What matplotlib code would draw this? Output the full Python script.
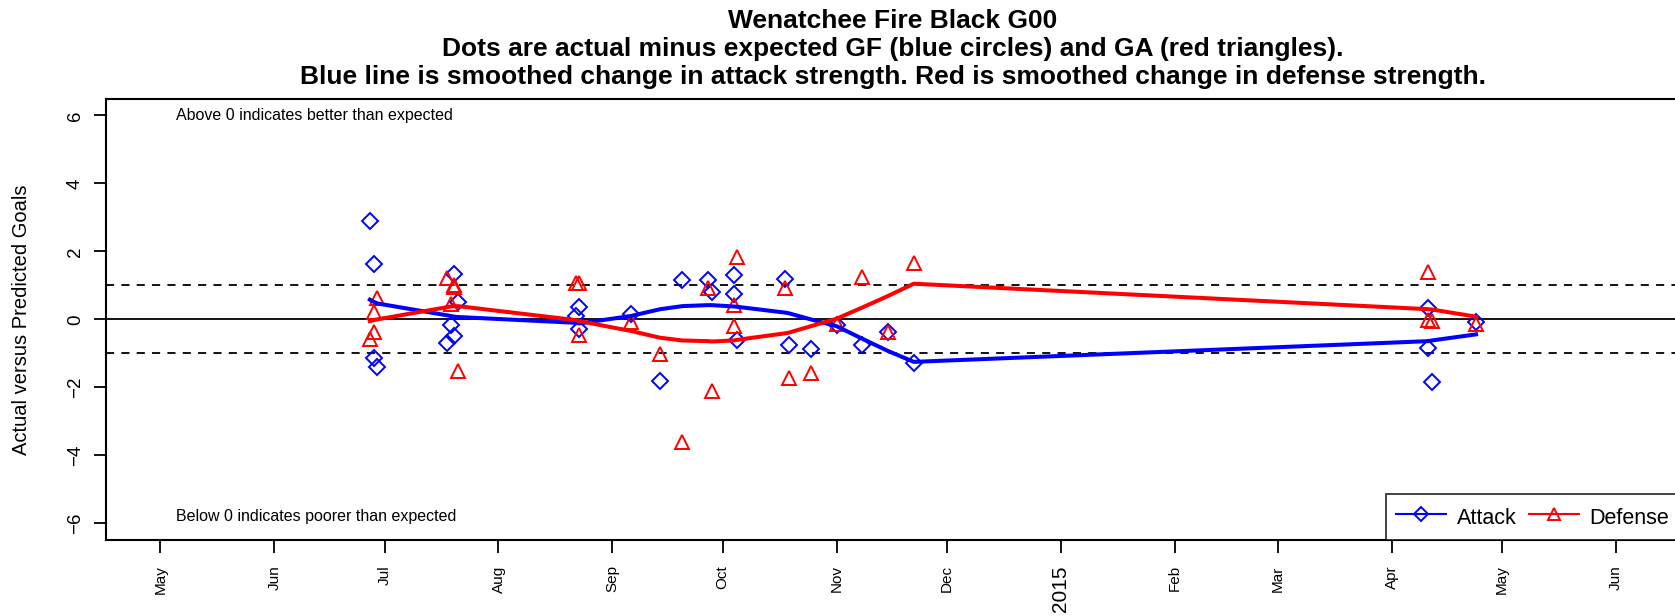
import matplotlib
matplotlib.use("Agg")
import matplotlib.pyplot as plt
import pandas as pd

plt.rcParams["font.family"] = ["Liberation Sans", "DejaVu Sans"]

# one row per game
game_dates = [
    "2014-06-27", "2014-06-28", "2014-06-28", "2014-06-29",
    "2014-07-18", "2014-07-19", "2014-07-20", "2014-07-20", "2014-07-21",
    "2014-08-22", "2014-08-23", "2014-08-23",
    "2014-09-06", "2014-09-14", "2014-09-20", "2014-09-27", "2014-09-28",
    "2014-10-04", "2014-10-04", "2014-10-05", "2014-10-18", "2014-10-19",
    "2014-10-25", "2014-11-01", "2014-11-08", "2014-11-15", "2014-11-22",
    "2015-04-11", "2015-04-11", "2015-04-12", "2015-04-24",
]
attack = [
    2.90, 1.62, -1.13, -1.40,
    -0.69, -0.17, 1.35, -0.49, 0.51,
    0.10, 0.36, -0.29,
    0.15, -1.80, 1.16, 1.15, 0.80,
    1.31, 0.76, -0.61, 1.18, -0.74,
    -0.87, -0.16, -0.74, -0.37, -1.28,
    0.35, -0.84, -1.85, -0.08,
]
defense = [
    -0.57, 0.23, -0.37, 0.64,
    1.23, 0.44, 1.00, 0.95, -1.52,
    1.06, 1.06, -0.47,
    -0.08, -1.03, -3.60, 0.93, -2.10,
    0.41, -0.20, 1.84, 0.93, -1.72,
    -1.58, -0.14, 1.26, -0.37, 1.66,
    1.38, -0.02, -0.05, -0.15,
]
attack_smooth = [
    0.58, 0.52, 0.52, 0.47,
    0.12, 0.10, 0.08, 0.08, 0.07,
    -0.10, -0.12, -0.12,
    0.10, 0.30, 0.39, 0.42, 0.42,
    0.38, 0.38, 0.37, 0.20, 0.18,
    0.00, -0.20, -0.57, -0.93, -1.25,
    -0.64, -0.64, -0.62, -0.44,
]
defense_smooth = [
    -0.05, -0.02, -0.02, 0.00,
    0.36, 0.38, 0.39, 0.39, 0.39,
    -0.02, -0.05, -0.05,
    -0.34, -0.54, -0.62, -0.64, -0.65,
    -0.62, -0.62, -0.60, -0.41, -0.39,
    -0.20, 0.02, 0.35, 0.69, 1.05,
    0.30, 0.30, 0.29, 0.08,
]
month_ticks = pd.date_range("2014-05-01", "2015-06-01", freq="MS")
month_labels = [("2015" if d.month == 1 else d.strftime("%b")) for d in month_ticks]

x = pd.to_datetime(game_dates)

fig = plt.figure(figsize=(16.75, 6.16), dpi=100)
ax = fig.add_axes([0.0633, 0.124, 0.9397, 0.715])

ax.axhline(0, color="black", lw=1.3)
ax.axhline(1, color="black", lw=1.3, ls=(0, (4.5, 4)))
ax.axhline(-1, color="black", lw=1.3, ls=(0, (4.5, 4)))

ax.plot(x, attack, ls="none", marker="D", ms=8, mfc="none", mec="#0000FF", mew=1.4)
ax.plot(x, defense, ls="none", marker="^", ms=10, mfc="none", mec="#FF0000", mew=1.4)
ax.plot(x, attack_smooth, color="#0000FF", lw=2.9)
ax.plot(x, defense_smooth, color="#FF0000", lw=2.9)

ax.set_xlim(pd.Timestamp("2014-04-16 05:00"), pd.Timestamp("2015-06-18 12:00"))
ax.set_ylim(-6.48, 6.48)
ax.set_yticks([-6, -4, -2, 0, 2, 4, 6])
ax.set_yticklabels(["\u22126", "\u22124", "\u22122", "0", "2", "4", "6"])
ax.tick_params(axis="y", labelrotation=90, labelsize=13.5, length=9, width=1.3, pad=7)
for t in ax.get_yticklabels():
    t.set_va("center")
ax.set_xticks(month_ticks)
ax.set_xticklabels(month_labels, rotation=90)
ax.tick_params(axis="x", labelsize=11, length=9.5, width=1.3, pad=9)
for t in ax.get_xticklabels():
    if t.get_text() == "2015":
        t.set_fontsize(15)
    t.set_va("top")
for s in ax.spines.values():
    s.set_linewidth(1.5)

ax.set_ylabel("Actual versus Predicted Goals", fontsize=14.5, labelpad=26)

ax.text(0.0446, 6, "Above 0 indicates better than expected", transform=ax.get_yaxis_transform(),
        fontsize=11.5, ha="left", va="center")
ax.text(0.0446, -5.8, "Below 0 indicates poorer than expected", transform=ax.get_yaxis_transform(),
        fontsize=11.5, ha="left", va="center")

ax.set_title("Wenatchee Fire Black G00\n"
             "Dots are actual minus expected GF (blue circles) and GA (red triangles).\n"
             "Blue line is smoothed change in attack strength. Red is smoothed change in defense strength.",
             fontsize=19, fontweight="bold", linespacing=1.2, pad=11)

h1, = ax.plot([], [], color="#0000FF", lw=1.5, marker="D", ms=7, mfc="none", mew=1.4)
h2, = ax.plot([], [], color="#FF0000", lw=1.5, marker="^", ms=8, mfc="none", mew=1.4)
leg = ax.legend([h1, h2], ["Attack", "Defense"], loc="lower right", ncol=2, fontsize=15.5,
                frameon=True, fancybox=False, edgecolor="black", borderaxespad=0,
                handlelength=2.3, handleheight=1.3, handletextpad=0.5, columnspacing=0.6,
                borderpad=0.5)
leg.get_frame().set_linewidth(1.3)

fig.savefig("out.png", dpi=100)
